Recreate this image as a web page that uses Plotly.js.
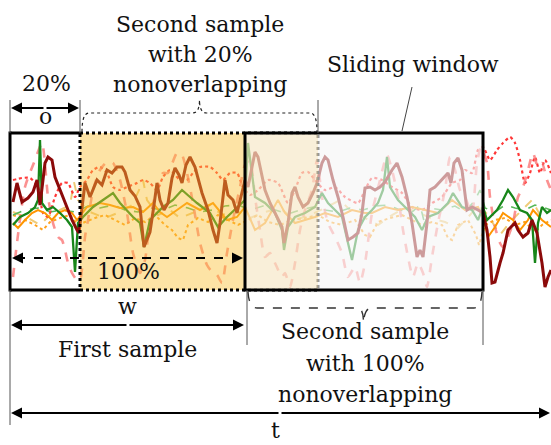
<!DOCTYPE html>
<html><head><meta charset="utf-8">
<script src="https://cdn.plot.ly/plotly-3.0.1.min.js"></script>
<style>html,body{margin:0;padding:0;background:#fff}#c{width:551px;height:445px}</style>
</head><body><div id="c"></div>
<script>
const t_main=[3,7,12,18,23,27,30,35,38,42,45,50,57,62,67,69,75,80,87,92,97,102,107,112,115,120,125,130,134,140,144,147,150,154,158,162,165,169,172,176,180,185,192,198,203,207,210,215,218,223,227,232,235,238,245,248,255,260,267,272,274,278,282,285,288,293,298,303,307,312,315,318,323,328,333,338,343,348,352,355,360,365,370,375,382,387,392,397,402,407,410,413,417,420,425,432,438,441,444,448,452,457,462,468,473,477,480,482,485,490,493,498,505,508,513,518,522,527,532,535,538,541];
const a_main=[9,28,9,13,19,31,6,48,54,51,34,21,4,-9,-19,-22,28,14,31,26,41,38,44,44,39,21,15,4,-36,-21,6,28,11,1,8,33,43,36,28,46,54,44,18,1,-19,-32,-12,31,16,11,-2,18,31,24,59,54,21,8,-6,-16,-32,-12,18,24,14,4,8,18,28,48,54,51,31,14,-6,-29,-26,-22,-2,23,24,21,24,29,41,48,34,14,-12,-46,-39,-46,-12,21,24,31,38,28,48,53,41,1,4,1,-2,-19,-46,-72,-71,-52,-42,-19,-12,-19,-26,-22,-9,-22,-52,-76,-66,-59];
const t_green=[3,10,18,25,28,30,32,37,43,50,57,62,65,68,73,83,93,103,110,123,130,134,140,153,163,172,180,187,200,208,217,227,235,238,245,255,265,272,274,278,285,295,305,312,318,325,332,338,342,348,355,362,368,373,377,380,388,398,405,412,418,428,438,443,452,462,468,473,477,487,493,498,503,510,517,522,525,528,532,537,541];
const a_green=[-14,-6,-2,4,11,71,8,1,4,-2,-9,-16,-61,-12,-6,4,11,18,8,-6,-12,-36,-9,4,11,21,14,8,-2,-16,-6,4,11,68,14,8,-2,-19,-39,-16,-6,-2,4,18,8,1,-6,-32,-49,-19,-6,1,8,21,54,24,11,1,-6,-19,-6,-2,8,18,4,1,-9,4,-9,1,11,21,14,1,-2,-9,-52,-12,4,-2,1];
const t_orange=[3,8,15,22,28,35,42,48,55,62,67,77,90,100,110,123,133,143,150,157,167,177,190,203,217,227,235,245,255,268,275,285,295,305,315,328,342,355,362,375,388,402,415,428,442,455,468,473,478,485,493,503,510,518,523,532,541];
const a_orange=[-12,-17,-9,-2,1,-2,-9,-2,1,-2,-9,4,8,6,3,4,-1,8,-1,-6,1,8,1,8,-9,-6,4,-19,-12,11,-2,-12,-9,-6,-2,-6,1,-2,-2,4,1,4,1,-2,11,1,4,-6,-26,-16,-2,-9,-19,-9,1,-9,-16];
const t_salmon=[3,15,25,32,38,43,48,52,55,58,62,67,70,75,78,83,90,97,103,110,117,123,130,135,140,147,153,158,167,172,177,183,190,197,203,207,212,217,223,230,235,240,245,250,255,260,265,272,275,280,285,290,295,302,307,312,318,325,332,338,345,350,355,362,370,377,382,388,393,398,403,408,413,417,422,428,435,440,445,450,455,462,467,471,477,480,485,490,493,498,503,508,513,518,523,528,532,537,541];
const a_salmon=[-66,24,51,68,14,-12,-26,-29,-39,-52,-62,-69,-69,-26,-9,21,41,49,48,31,-2,-42,-62,-49,-9,24,38,38,58,56,38,8,-32,-54,-62,-64,-72,-42,-9,24,46,51,14,-19,-46,-42,-52,-66,-62,-76,-52,-19,1,21,51,14,-12,-26,-42,-66,-56,-72,-52,-2,31,56,41,14,-19,-46,-66,-52,-62,-76,-46,-12,21,54,41,21,14,-2,48,64,48,14,-16,-32,-36,-26,-12,14,24,41,58,44,48,31,21];
const t_reddot=[3,12,20,28,33,38,45,52,58,65,70,77,83,90,97,103,110,117,127,133,140,147,153,160,170,177,183,190,200,207,213,220,227,233,240,248,258,268,278,285,292,298,305,315,325,335,348,355,362,372,382,392,402,412,422,432,442,450,455,462,468,473,480,487,493,500,505,510,515,520,525,530,535,541];
const a_reddot=[31,33,33,24,-2,-6,14,28,28,14,24,31,41,44,38,24,21,24,28,31,28,21,34,41,31,31,38,44,44,38,31,38,38,24,16,21,31,28,8,21,38,39,31,21,24,14,8,21,33,31,24,18,4,1,8,14,28,31,41,38,61,64,51,61,68,74,68,51,28,38,54,38,51,38];
const t_orangedot=[3,15,25,33,40,50,60,68,75,85,95,105,115,125,135,145,155,162,168,173,178,188,198,208,218,228,238,248,258,270,282,295,308,320,332,345,355,360,368,380,392,402,412,422,432,438,442,448,458,466,469,475,485,495,505,515,525,532,541];
const a_orangedot=[-4,-9,-14,-19,-11,-7,-4,-14,-11,-7,-4,-9,-14,-7,-11,-4,-14,-19,-27,-29,-14,-7,-11,-4,-9,-14,-9,-4,-11,-14,-9,-7,-4,-11,-14,-9,-24,-26,-11,-7,-4,-9,-14,-11,-14,-27,-29,-14,-9,-24,-34,-14,-9,-7,-14,-11,-21,-14,-9];
const t_greendash=[3,15,28,40,52,65,78,90,103,115,128,140,153,165,178,190,203,215,228,240,253,265,278,290,303,315,328,340,353,365,378,390,402,410,415,420,432,445,455,465,470,475,485,495,505,515,525,535,541];
const a_greendash=[-4,1,3,-1,1,-1,5,3,6,1,-1,3,1,6,3,-1,1,5,6,1,5,1,-3,1,4,1,-1,3,1,5,6,1,-1,6,-14,3,1,5,-1,11,21,3,-1,6,3,1,6,3,1];
const t_yellow=[3,18,30,40,50,60,64,68,80,95,110,122,130,133,137,148,160,170,185,200,212,225,240,255,270,285,300,315,330,342,355,368,382,395,408,420,435,448,460,468,478,490,500,510,522,530,541];
const a_yellow=[-1,-7,-14,-4,1,6,29,11,-1,-7,-1,6,23,31,11,-4,1,-7,-1,6,-4,1,-7,-1,3,-9,-4,3,11,-1,-7,-14,-4,3,-1,-7,-11,-17,-4,6,-4,-24,-11,-1,11,-4,1];

const X0=10, O_END=80, W_END=245, S2_END=318, SW_END=483, XR=551;
const TOP=133, BOT=290;
const FONT='DejaVu Serif', FS=22;

function tr(t,a,color,width,dash,shape){
  return {x:t,y:a,xaxis:'x2',yaxis:'y2',type:'scatter',mode:'lines',
    line:{color:color,width:width,dash:dash||'solid',shape:shape||'linear',smoothing:0.6},hoverinfo:'skip'};
}
const data=[
  tr(t_yellow,a_yellow,'#efcb78',2,'dash'),
  tr(t_orangedot,a_orangedot,'#ffa21c',2,'dot'),
  tr(t_greendash,a_greendash,'#58b858',1.6,'dash'),
  tr(t_reddot,a_reddot,'#ff3838',2.2,'dot','spline'),
  tr(t_salmon,a_salmon,'rgba(250,110,110,0.75)',2.6,'dash','spline'),
  tr(t_orange,a_orange,'#ff9500',2,'solid'),
  tr(t_green,a_green,'#17861a',2.3,'solid'),
  tr(t_main,a_main,'#8b0a0a',3,'solid')
];

function ln(x0,y0,x1,y1,color,w,dash){return {type:'line',xref:'x',yref:'y',x0:x0,y0:y0,x1:x1,y1:y1,layer:'above',line:{color:color,width:w,dash:dash||'solid'}};}
function rc(x0,x1,fill,lc,lw,dash){return {type:'rect',xref:'x',yref:'y',x0:x0,x1:x1,y0:TOP,y1:BOT,layer:'above',fillcolor:fill,line:{color:lc||'rgba(0,0,0,0)',width:lw||0,dash:dash||'solid'}};}
const midTop=(O_END+S2_END)/2+0.5, midBot=(W_END+SW_END)/2-0.5;
const shapes=[
  rc(O_END,W_END,'rgba(251,193,55,0.45)'),
  rc(O_END,S2_END,'rgba(0,0,0,0)','#000',3,'dot'),
  rc(W_END,SW_END,'rgba(246,246,246,0.62)'),
  rc(W_END,S2_END,'rgba(250,200,90,0.2)'),
  rc(W_END,SW_END,'rgba(0,0,0,0)','#000',3),
  ln(X0,TOP,O_END,TOP,'#000',3), ln(X0,BOT,O_END,BOT,'#000',3), ln(X0,TOP-1.5,X0,BOT+1.5,'#000',3),
  ln(X0,100,X0,TOP,'#555',1), ln(O_END,100,O_END,TOP,'#555',1), ln(S2_END,100,S2_END,TOP,'#555',1),
  ln(X0,BOT,X0,425,'#555',1), ln(W_END+2,BOT,W_END+2,345,'#555',1), ln(SW_END,BOT,SW_END,345,'#555',1),
  ln(412,87,402,131,'#444',1),
  ln(X0+6,258,W_END-6,258,'#000',2,'dash'),
  {type:'path',xref:'x',yref:'y',layer:'above',line:{color:'#222',width:1.2,dash:'dot'},
   path:`M ${O_END+2},${TOP-1} Q ${O_END+2},113 ${O_END+9},113 L ${midTop-7},113 Q ${midTop},113 ${midTop},100 Q ${midTop},113 ${midTop+7},113 L ${S2_END-8},113 Q ${S2_END-1},113 ${S2_END-1},${TOP-1}`},
  {type:'path',xref:'x',yref:'y',layer:'above',line:{color:'#333',width:1.4,dash:'dash'},
   path:`M ${W_END+3},292 Q ${W_END+4},308 ${W_END+12},308 L ${midBot-6},308 Q ${midBot},308 ${midBot},323 Q ${midBot+1},308 ${midBot+8},308 L ${SW_END-9},308 Q ${SW_END-2},308 ${SW_END-1},292`}
];

function txt(x,y,s){return {x:x,y:y,xref:'x',yref:'y',text:s,showarrow:false,xanchor:'center',yanchor:'middle',font:{family:FONT,size:FS,color:'#111'}};}
function arr(x,y,ax){return {x:x,y:y,ax:ax,ay:y,xref:'x',yref:'y',axref:'x',ayref:'y',text:'',showarrow:true,arrowhead:2,arrowsize:1.1,arrowwidth:2,arrowcolor:'#000',standoff:0,startstandoff:0};}
const annotations=[
  txt(200,24,'Second sample'), txt(200,54,'with 20%'), txt(200,84,'nonoverlapping'),
  txt(46,83,'20%'), txt(45,116,'o'),
  txt(413,64,'Sliding window'),
  txt(128,271,'100%'),
  txt(127,306,'w'), txt(127,349,'First sample'),
  txt(365,331,'Second sample'), txt(365,363,'with 100%'), txt(365,394,'nonoverlapping'),
  txt(275,430,'t'),
  arr(X0+1,108,45), arr(O_END-1,108,45),
  arr(X0+1,325,128), arr(W_END-1,325,128),
  arr(X0+1,413,280), arr(XR-1,413,280),
  arr(X0+2,258,X0+10), arr(W_END-2,258,W_END-10)
];

const layout={width:551,height:445,margin:{l:0,r:0,t:0,b:0},paper_bgcolor:'#fff',plot_bgcolor:'rgba(0,0,0,0)',showlegend:false,
  font:{family:FONT,size:FS,color:'#111'},
  xaxis:{range:[0,XR],visible:false,fixedrange:true},
  yaxis:{range:[445,0],visible:false,fixedrange:true},
  xaxis2:{range:[-X0,XR-X0],overlaying:'x',visible:false,fixedrange:true},
  yaxis2:{range:[-234,211],overlaying:'y',visible:false,fixedrange:true},
  shapes:shapes,annotations:annotations};
Plotly.newPlot('c',data,layout,{staticPlot:true,displayModeBar:false});
</script></body></html>
